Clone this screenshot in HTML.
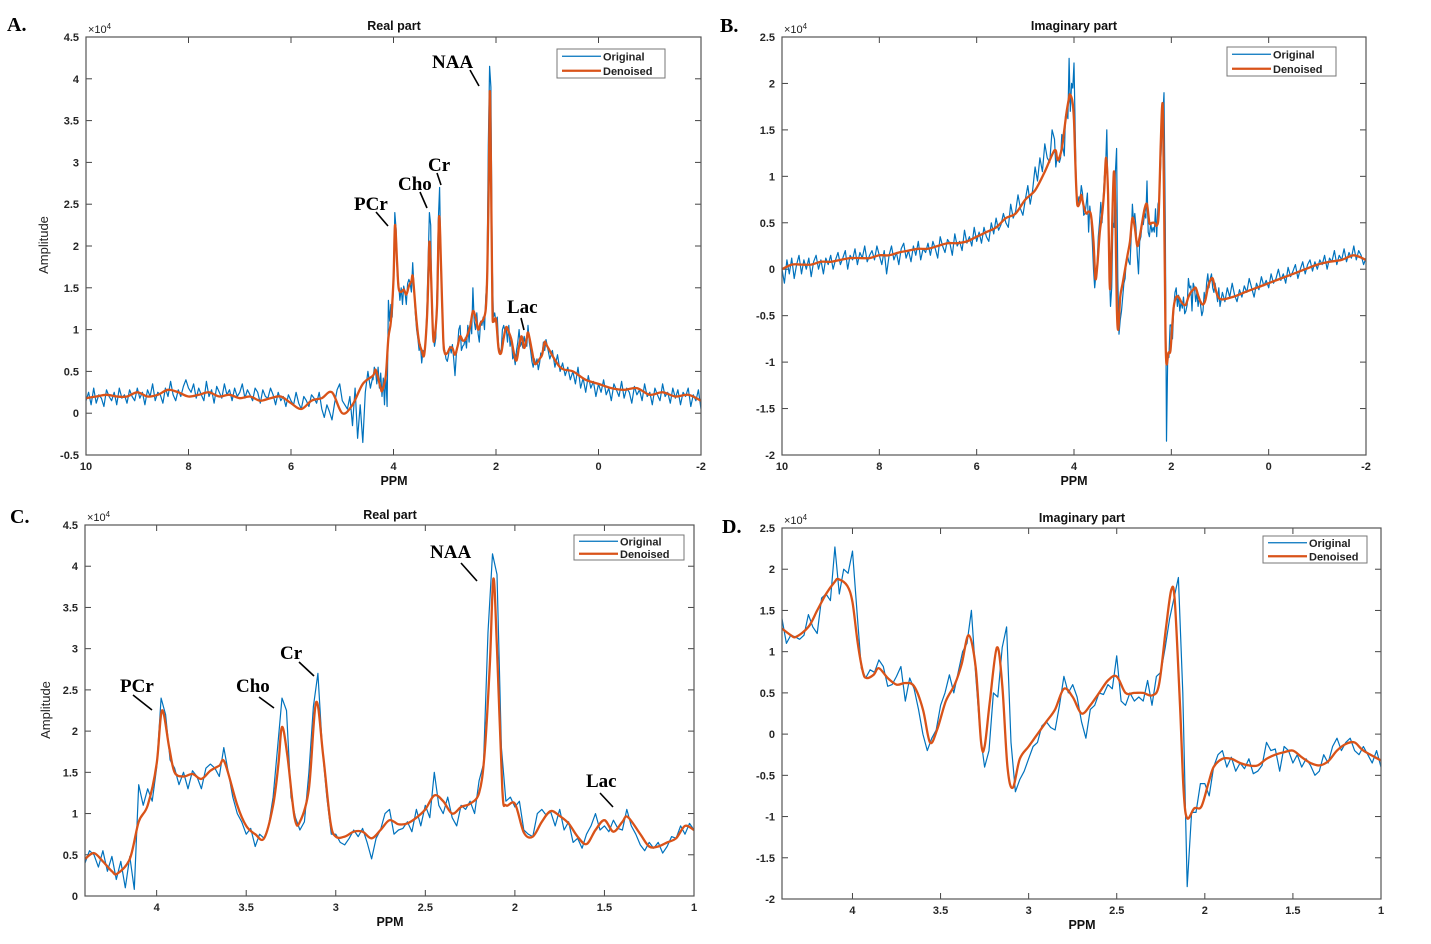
<!DOCTYPE html>
<html><head><meta charset="utf-8"><style>
body{margin:0;background:#fff;}
svg{display:block;font-family:"Liberation Sans",Arial,sans-serif;}
.tk{font-size:11px;font-weight:bold;fill:#262626;}
.tt{font-size:12.5px;font-weight:bold;fill:#111;}
.ann{font-family:"Liberation Serif",serif;font-weight:bold;font-size:19px;fill:#000;}
.plet{font-family:"Liberation Serif",serif;font-weight:bold;font-size:20px;fill:#000;}
</style></head><body>
<svg id="fig" width="1431" height="944" viewBox="0 0 1431 944"></svg>
<script>
// ---- data (amplitudes in units of 1e4) ----
// Detailed region 4.4 -> 1.0 ppm, real part (original)
const realMidOrig = [0.40,0.55,0.50,0.35,0.55,0.30,0.48,0.20,0.42,0.10,0.48,0.08,1.35,1.10,1.30,1.15,1.55,2.40,2.20,1.65,1.55,1.35,1.50,1.30,1.52,1.45,1.30,1.55,1.60,1.55,1.45,1.80,1.50,1.20,1.00,0.90,0.75,0.82,0.60,0.75,0.70,0.85,1.20,1.80,2.40,2.25,1.20,0.95,0.80,0.90,1.50,2.30,2.70,1.80,1.20,0.75,0.75,0.65,0.62,0.70,0.80,0.72,0.82,0.65,0.45,0.70,0.80,1.00,1.05,0.75,0.80,0.82,0.90,0.78,1.05,0.85,1.10,0.95,1.50,1.10,1.00,1.20,0.95,0.85,1.10,1.05,1.15,1.00,1.40,1.60,3.20,4.15,3.90,1.80,1.15,1.20,1.08,1.15,0.80,0.75,0.72,1.00,1.05,0.98,1.02,0.85,1.05,0.80,0.90,0.65,0.70,0.58,0.75,0.85,1.00,0.80,0.85,0.78,0.92,0.82,0.80,1.05,0.85,0.75,0.62,0.55,0.65,0.58,0.65,0.52,0.60,0.72,0.70,0.85,0.75,0.88,0.80];
const realMidDenPpm = [4.4,4.35,4.3,4.25,4.22,4.15,4.1,4.05,4.0,3.97,3.93,3.9,3.85,3.8,3.75,3.7,3.65,3.62,3.55,3.5,3.45,3.4,3.35,3.32,3.3,3.27,3.23,3.2,3.15,3.11,3.07,3.03,3.0,2.95,2.9,2.85,2.8,2.75,2.7,2.65,2.6,2.55,2.5,2.45,2.4,2.35,2.3,2.25,2.2,2.17,2.14,2.12,2.1,2.07,2.05,2.0,1.95,1.9,1.85,1.8,1.75,1.7,1.65,1.6,1.55,1.5,1.45,1.4,1.37,1.3,1.25,1.2,1.15,1.1,1.05,1.0];
const realMidDen = [0.45,0.52,0.42,0.3,0.27,0.45,0.9,1.1,1.6,2.25,1.8,1.5,1.45,1.48,1.42,1.52,1.58,1.62,1.1,0.85,0.75,0.7,1.1,1.6,2.05,1.7,0.95,0.9,1.3,2.35,1.7,0.9,0.72,0.72,0.78,0.78,0.7,0.8,0.92,0.87,0.88,0.95,1.05,1.22,1.15,1.0,1.08,1.12,1.25,1.7,2.8,3.85,3.0,1.3,1.1,1.12,0.77,0.72,0.9,1.03,0.97,0.88,0.72,0.63,0.8,0.92,0.78,0.9,0.96,0.75,0.6,0.6,0.65,0.7,0.85,0.8];
// Imaginary part, 4.4 -> 1.0 ppm
const imagMidOrig = [1.40,1.10,1.20,1.18,1.15,1.20,1.45,1.30,1.22,1.65,1.70,1.62,2.27,1.70,2.00,1.95,2.22,1.50,0.80,0.68,0.78,0.75,0.90,0.82,0.58,0.60,0.70,0.82,0.40,0.68,0.55,0.30,0.00,-0.20,-0.05,0.05,0.35,0.50,0.72,0.50,0.75,1.00,1.10,1.50,0.70,0.00,-0.40,-0.20,0.50,0.45,1.05,1.30,-0.10,-0.70,-0.55,-0.45,-0.30,-0.15,-0.10,0.10,0.15,0.08,0.05,0.35,0.70,0.50,0.60,0.45,0.15,-0.05,0.30,0.35,0.50,0.48,0.60,0.55,0.95,0.40,0.35,0.50,0.40,0.45,0.40,0.65,0.35,0.70,0.75,1.05,1.40,1.65,1.90,0.50,-1.85,-0.95,-0.95,-0.60,-0.60,-0.75,-0.40,-0.25,-0.20,-0.40,-0.28,-0.45,-0.35,-0.42,-0.30,-0.48,-0.45,-0.38,-0.10,-0.20,-0.18,-0.45,-0.15,-0.20,-0.35,-0.25,-0.40,-0.30,-0.38,-0.50,-0.45,-0.25,-0.35,-0.15,-0.05,-0.20,-0.10,-0.05,-0.20,-0.25,-0.15,-0.25,-0.35,-0.20,-0.40];
const imagMidDenPpm = [4.4,4.35,4.32,4.25,4.2,4.15,4.1,4.08,4.03,4.0,3.97,3.94,3.92,3.88,3.85,3.8,3.75,3.7,3.65,3.6,3.56,3.52,3.47,3.42,3.38,3.34,3.3,3.27,3.25,3.22,3.18,3.15,3.12,3.09,3.05,3.0,2.95,2.9,2.85,2.8,2.75,2.7,2.65,2.6,2.55,2.5,2.45,2.4,2.35,2.3,2.26,2.22,2.19,2.17,2.14,2.12,2.1,2.06,2.02,1.98,1.95,1.9,1.85,1.8,1.75,1.7,1.65,1.6,1.55,1.5,1.45,1.4,1.35,1.3,1.25,1.2,1.15,1.1,1.0];
const imagMidDen = [1.28,1.2,1.18,1.3,1.5,1.7,1.85,1.88,1.8,1.6,1.1,0.75,0.68,0.72,0.8,0.68,0.6,0.62,0.58,0.3,-0.1,0.05,0.4,0.6,0.85,1.2,0.8,-0.1,-0.15,0.4,1.05,0.6,-0.4,-0.65,-0.3,-0.15,0.0,0.15,0.3,0.55,0.45,0.25,0.35,0.5,0.65,0.7,0.5,0.5,0.5,0.47,0.6,1.3,1.75,1.6,0.3,-0.7,-1.02,-0.9,-0.88,-0.6,-0.4,-0.3,-0.3,-0.35,-0.38,-0.38,-0.3,-0.25,-0.22,-0.2,-0.28,-0.35,-0.38,-0.33,-0.2,-0.12,-0.1,-0.2,-0.32];
// Outer regions for full-range panels: 10 -> 4.4 ppm (step 0.05) and 1 -> -2 ppm (step 0.05)
const realLeftOrig = [0.15,0.25,0.10,0.30,0.12,0.22,0.18,0.08,0.28,0.20,0.15,0.25,0.10,0.30,0.18,0.22,0.12,0.28,0.20,0.15,0.30,
0.18,0.25,0.10,0.28,0.20,0.35,0.15,0.25,0.22,0.12,0.30,0.20,0.38,0.22,0.15,0.28,0.20,0.32,0.40,0.30,
0.25,0.35,0.18,0.30,0.22,0.15,0.38,0.20,0.28,0.12,0.32,0.25,0.18,0.35,0.22,0.28,0.15,0.30,0.20,0.25,
0.35,0.18,0.28,0.22,0.15,0.30,0.25,0.12,0.28,0.20,0.18,0.30,0.22,0.10,0.25,0.15,0.20,0.08,0.22,0.15,
0.10,0.25,0.12,0.05,0.20,0.15,0.08,0.22,0.18,0.12,0.25,0.05,-0.05,0.10,0.02,-0.08,0.12,0.28,0.35,0.15,
0.10,0.05,0.20,-0.15,0.30,-0.30,0.10,-0.35,0.25,0.50,0.30,0.45];
const realLeftDen = [0.18,0.2,0.22,0.2,0.2,0.25,0.2,0.22,0.28,0.25,0.2,0.22,0.25,0.2,0.22,0.18,0.2,0.15,0.18,0.2,0.12,0.05,0.15,0.18,0.25,0.0,0.1,0.35,0.45];
const realRightOrig = [0.8,0.65,0.75,0.55,0.70,0.50,0.60,0.45,0.55,0.40,0.50,
0.35,0.55,0.30,0.42,0.25,0.45,0.30,0.38,0.20,0.35,
0.25,0.40,0.22,0.30,0.15,0.35,0.28,0.20,0.38,0.18,0.30,0.25,0.12,0.32,0.22,0.28,0.15,0.35,0.20,0.25,
0.10,0.30,0.22,0.15,0.35,0.20,0.25,0.12,0.30,0.18,0.28,0.10,0.25,0.20,0.30,0.08,0.22,0.15,0.28,0.05];
const realRightDen = [0.8,0.55,0.5,0.4,0.35,0.3,0.28,0.3,0.22,0.25,0.2,0.22,0.15];
const imagLeftOrig = [0.0,-0.15,0.10,-0.05,0.12,-0.10,0.05,0.15,-0.05,0.10,0.0,0.12,-0.08,0.08,0.15,0.0,0.10,-0.05,0.12,0.05,0.15,
0.0,0.10,0.18,0.05,0.12,0.20,0.0,0.15,0.10,0.22,0.05,0.18,0.12,0.25,0.08,0.15,0.20,0.10,0.25,0.15,
0.05,0.20,-0.05,0.15,0.25,0.10,0.18,0.05,0.22,0.28,0.12,0.20,0.08,0.25,0.15,0.30,0.10,0.22,0.18,0.28,
0.15,0.30,0.22,0.12,0.35,0.25,0.18,0.32,0.28,0.15,0.38,0.25,0.30,0.20,0.42,0.28,0.35,0.25,0.45,0.30,
0.40,0.28,0.45,0.35,0.30,0.50,0.38,0.55,0.42,0.48,0.60,0.50,0.45,0.70,0.55,0.62,0.80,0.65,0.58,0.75,
0.90,0.70,0.85,1.10,0.95,1.20,1.05,1.35,1.20,1.15,1.50,1.40];
const imagLeftDen = [0.0,0.05,0.05,0.05,0.08,0.08,0.1,0.12,0.12,0.12,0.15,0.15,0.18,0.2,0.22,0.22,0.25,0.28,0.28,0.3,0.35,0.4,0.45,0.55,0.6,0.75,0.85,1.05,1.3];
const imagRightOrig = [-0.40,-0.25,-0.35,-0.20,-0.30,-0.15,-0.28,-0.35,-0.22,-0.30,-0.18,
-0.25,-0.10,-0.20,-0.30,-0.15,-0.22,-0.08,-0.18,-0.12,-0.20,
-0.05,-0.15,-0.10,0.0,-0.12,-0.05,-0.15,0.02,-0.08,-0.02,0.05,-0.10,0.0,0.08,-0.05,0.05,0.10,-0.02,0.08,0.0,
0.10,0.05,0.15,0.0,0.12,0.08,0.20,0.05,0.15,0.10,0.22,0.08,0.18,0.12,0.25,0.10,0.20,0.15,0.05,0.12];
const imagRightDen = [-0.32,-0.3,-0.25,-0.2,-0.15,-0.1,-0.05,0.0,0.05,0.08,0.1,0.15,0.1];
const xTicksFull = [10,8,6,4,2,0,-2];
const xTicksZoom = [4,3.5,3,2.5,2,1.5,1];
const yTicksReal = [-0.5,0,0.5,1,1.5,2,2.5,3,3.5,4,4.5];
const yTicksImag = [-2,-1.5,-1,-0.5,0,0.5,1,1.5,2,2.5];
const yTicksRealZoom = [0,0.5,1,1.5,2,2.5,3,3.5,4,4.5];

// ---- helpers ----
const NS='http://www.w3.org/2000/svg';
const svg=document.getElementById('fig');
function mk(tag,attrs,parent){const e=document.createElementNS(NS,tag);for(const k in attrs)e.setAttribute(k,attrs[k]);(parent||svg).appendChild(e);return e;}
function seq(start,end,n){const a=[];for(let i=0;i<n;i++)a.push(start+(end-start)*i/(n-1));return a;}
function lbl(v){return String(v);}
function catmull(pts){let d='M'+pts[0][0].toFixed(1)+','+pts[0][1].toFixed(1);
 for(let i=0;i<pts.length-1;i++){const p0=pts[Math.max(0,i-1)],p1=pts[i],p2=pts[i+1],p3=pts[Math.min(pts.length-1,i+2)];
 const c1=[p1[0]+(p2[0]-p0[0])/6,p1[1]+(p2[1]-p0[1])/6],c2=[p2[0]-(p3[0]-p1[0])/6,p2[1]-(p3[1]-p1[1])/6];
 d+='C'+c1[0].toFixed(1)+','+c1[1].toFixed(1)+' '+c2[0].toFixed(1)+','+c2[1].toFixed(1)+' '+p2[0].toFixed(1)+','+p2[1].toFixed(1);}
 return d;}

function panel(c){
 const g=mk('g',{});
 
 
 const X=p=>c.x0+(c.xmax-p)/(c.xmax-c.xmin)*(c.x1-c.x0);
 const Y=v=>c.y1-(v-c.ymin)/(c.ymax-c.ymin)*(c.y1-c.y0);
 const cid='clip-'+c.name;
 const cp=mk('clipPath',{id:cid},g);mk('rect',{x:c.x0,y:c.y0,width:c.x1-c.x0,height:c.y1-c.y0},cp);
 // ticks
 c.xt.forEach(t=>{const x=X(t);
  const a=mk('line',{x1:x,y1:c.y1,x2:x,y2:c.y1-6,stroke:'#444','stroke-width':1},g);
  
  mk('line',{x1:x,y1:c.y0,x2:x,y2:c.y0+6,stroke:'#444','stroke-width':1},g);
  const t1=mk('text',{x:x,y:c.y1+15,'text-anchor':'middle',class:'tk'},g);t1.textContent=lbl(t);
  });
 c.yt.forEach(t=>{const y=Y(t);
  const a=mk('line',{x1:c.x0,y1:y,x2:c.x0+6,y2:y,stroke:'#444','stroke-width':1},g);
  
  mk('line',{x1:c.x1,y1:y,x2:c.x1-6,y2:y,stroke:'#444','stroke-width':1},g);
  const t1=mk('text',{x:c.x0-7,y:y+4,'text-anchor':'end',class:'tk'},g);t1.textContent=lbl(t);
  });
 const sg=mk('g',{'clip-path':'url(#'+cid+')'},g);
 // original series
 const op=c.orig.map(s=>{const ppm=seq(s.a,s.b,s.v.length);return s.v.map((v,i)=>[X(ppm[i]),Y(v)]);}).flat();
 const l1=mk('polyline',{points:op.map(p=>p[0].toFixed(1)+','+p[1].toFixed(1)).join(' '),fill:'none',stroke:'#0072BD','stroke-width':1.2,'stroke-linejoin':'round'},sg);
 
 const dp=c.den.map(s=>{const ppm=s.p||seq(s.a,s.b,s.v.length);return s.v.map((v,i)=>[X(ppm[i]),Y(v)]);}).flat();
 const l2=mk('path',{d:catmull(dp),fill:'none',stroke:'#D95319','stroke-width':2.3,'stroke-linejoin':'round'},sg);
 
 // box
 const bx=mk('rect',{x:c.x0,y:c.y0,width:c.x1-c.x0,height:c.y1-c.y0,fill:'none',stroke:'#555','stroke-width':1.2},g);
 
 // exponent
 const ex=mk('text',{x:c.x0+2,y:c.y0-4,style:'font-size:11px;fill:#222'},g);
 ex.textContent='×10';const sup=mk('tspan',{dy:-4,style:'font-size:8px'},ex);sup.textContent='4';
 
 // title, x label
 const ti=mk('text',{x:c.tx,y:c.ty,'text-anchor':'middle',class:'tt'},g);ti.textContent=c.title;
 
 const xl=mk('text',{x:c.tx,y:c.y1+30,'text-anchor':'middle',class:'tt'},g);xl.textContent='PPM';
 
 if(c.amp){const yl=mk('text',{x:0,y:0,transform:'translate('+c.amp[0]+','+c.amp[1]+') rotate(-90)','text-anchor':'middle',style:'font-size:13px;fill:#222'},g);yl.textContent='Amplitude';
  }
 // letter
 const pl=mk('text',{x:c.let[0],y:c.let[1],class:'plet'},g);pl.textContent=c.letter;
 
 // legend
 const L=c.leg;const lg=mk('g',{},g);
 
 mk('rect',{x:L[0],y:L[1],width:L[2],height:L[3],fill:'#fff',stroke:'#777','stroke-width':1},lg);
 const h=L[3]/2;
 [['Original','#0072BD',1.2],['Denoised','#D95319',2.3]].forEach((e,i)=>{const yy=L[1]+h*(i+0.5);
  const le=mk('g',{},lg);
  mk('line',{x1:L[0]+5,y1:yy,x2:L[0]+44,y2:yy,stroke:e[1],'stroke-width':e[2]},le);
  const t=mk('text',{x:L[0]+46,y:yy+4,style:'font-size:11px;font-weight:bold;fill:#222'},le);t.textContent=e[0];});
 // annotations
 (c.ann||[]).forEach(a=>{const ag=mk('g',{},g);
  const t=mk('text',{x:a[1],y:a[2],class:'ann'},ag);t.textContent=a[0];
  mk('line',{x1:a[3],y1:a[4],x2:a[5],y2:a[6],stroke:'#000','stroke-width':1.6},ag);});
}

panel({name:'panel-a-real-full',x0:86,x1:701,y0:37,y1:455,xmin:-2,xmax:10,ymin:-0.5,ymax:4.5,xt:xTicksFull,yt:yTicksReal,
 orig:[{a:10,b:4.4,v:realLeftOrig},{a:4.4,b:1,v:realMidOrig},{a:1,b:-2,v:realRightOrig}],
 den:[{a:10,b:4.6,v:realLeftDen.slice(0,-1)},{p:realMidDenPpm,v:realMidDen},{a:0.75,b:-2,v:realRightDen.slice(1)}],
 title:'Real part',tx:394,ty:30,amp:[48,245],letter:'A.',let:[7,31],leg:[557,49,108,29],
 ann:[['NAA',432,68,470,70,479,86],['PCr',354,210,376,212,388,226],['Cho',398,190,420,192,427,208],['Cr',428,171,437,173,441,185],['Lac',507,313,521,318,524,330]]});
panel({name:'panel-b-imag-full',x0:782,x1:1366,y0:37,y1:455,xmin:-2,xmax:10,ymin:-2,ymax:2.5,xt:xTicksFull,yt:yTicksImag,
 orig:[{a:10,b:4.4,v:imagLeftOrig},{a:4.4,b:1,v:imagMidOrig},{a:1,b:-2,v:imagRightOrig}],
 den:[{a:10,b:4.6,v:imagLeftDen.slice(0,-1)},{p:imagMidDenPpm,v:imagMidDen},{a:0.75,b:-2,v:imagRightDen.slice(1)}],
 title:'Imaginary part',tx:1074,ty:30,letter:'B.',let:[720,32],leg:[1227,47,109,29]});
panel({name:'panel-c-real-zoom',x0:85,x1:694,y0:525,y1:896,xmin:1,xmax:4.4,ymin:0,ymax:4.5,xt:xTicksZoom,yt:yTicksRealZoom,
 orig:[{a:4.4,b:1,v:realMidOrig}],den:[{p:realMidDenPpm,v:realMidDen}],
 title:'Real part',tx:390,ty:519,amp:[50,710],letter:'C.',let:[10,523],leg:[574,535,110,25],
 ann:[['NAA',430,558,461,563,477,581],['Cr',280,659,299,662,314,676],['PCr',120,692,133,695,152,710],['Cho',236,692,259,697,274,708],['Lac',586,787,600,793,613,807]]});
panel({name:'panel-d-imag-zoom',x0:782,x1:1381,y0:528,y1:899,xmin:1,xmax:4.4,ymin:-2,ymax:2.5,xt:xTicksZoom,yt:yTicksImag,
 orig:[{a:4.4,b:1,v:imagMidOrig}],den:[{p:imagMidDenPpm,v:imagMidDen}],
 title:'Imaginary part',tx:1082,ty:522,letter:'D.',let:[722,533],leg:[1263,536,104,27]});
</script>
</body></html>
